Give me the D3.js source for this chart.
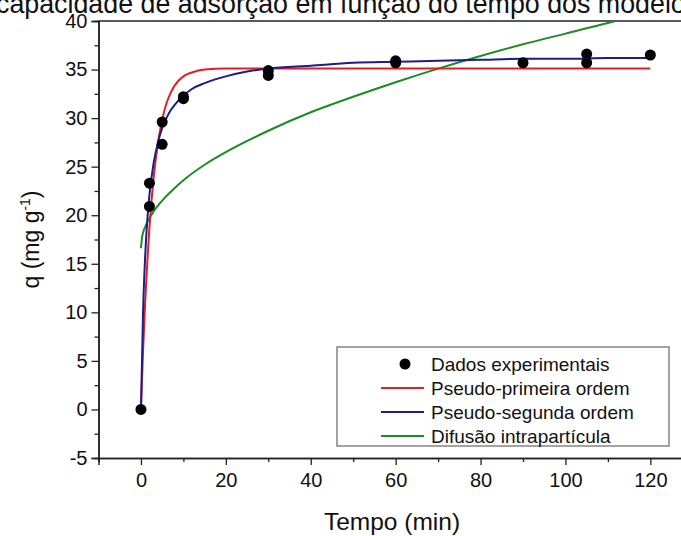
<!DOCTYPE html>
<html><head><meta charset="utf-8">
<script src="https://cdn.jsdelivr.net/npm/d3@7"></script>
<style>body{margin:0;background:#fff}svg{display:block}text{font-family:"Liberation Sans",Arial,sans-serif;fill:#111}</style>
</head><body>
<svg id="c" width="681" height="536"></svg>
<script>
const titleText = "capacidade de adsorção em função do tempo dos modelos";
const xLabel = "Tempo (min)";
const xTicks = [0, 20, 40, 60, 80, 100, 120];
const xMinor = [-10, 10, 30, 50, 70, 90, 110, 130];
const yTicks = [-5, 0, 5, 10, 15, 20, 25, 30, 35, 40];
const yMinor = [-2.5, 2.5, 7.5, 12.5, 17.5, 22.5, 27.5, 32.5, 37.5];

const expT = [0, 2, 2, 5, 5, 10, 10, 30, 30, 60, 60, 90, 105, 105, 120];
const expQ = [0, 20.9, 23.3, 29.6, 27.3, 32.0, 32.2, 34.4, 34.9, 35.7, 35.9, 35.7, 35.7, 36.6, 36.5];

const pfoT = [0, 0.5, 1, 1.5, 2, 3, 4, 5, 6, 7, 8, 10, 12, 15, 20, 30, 60, 90, 120];
const pfoQ = [0, 6.1, 11.1, 15.2, 18.7, 23.9, 27.4, 29.8, 31.5, 32.6, 33.4, 34.3, 34.7, 35.0, 35.1, 35.1, 35.1, 35.1, 35.1];

const psoT = [0, 0.5, 1, 1.5, 2, 3, 4, 5, 6, 7, 8, 10, 12, 15, 20, 25, 30, 40, 50, 60, 70, 80, 90, 100, 110, 120];
const psoQ = [0, 10.1, 15.8, 19.5, 22.1, 25.4, 27.5, 29.0, 30.0, 30.8, 31.4, 32.3, 33.0, 33.6, 34.3, 34.8, 35.1, 35.4, 35.7, 35.8, 35.9, 36.0, 36.1, 36.1, 36.2, 36.2];

const difT = [0, 0.25, 0.5, 1, 2, 3, 5, 7, 10, 15, 20, 30, 40, 50, 60, 70, 80, 90, 100, 110, 120];
const difQ = [16.6, 17.7, 18.2, 18.8, 19.7, 20.4, 21.5, 22.4, 23.6, 25.2, 26.5, 28.7, 30.6, 32.2, 33.7, 35.1, 36.4, 37.6, 38.7, 39.8, 40.8];

const legendLabels = ["Dados experimentais", "Pseudo-primeira ordem", "Pseudo-segunda ordem", "Difusão intrapartícula"];
const colors = {pfo: "#e31e24", pso: "#1c1c8a", dif: "#1e8a28"};

const svg = d3.select("#c");
const x = d3.scaleLinear().domain([-10, 130]).range([98.5, 692.8]);
const y = d3.scaleLinear().domain([-5, 40]).range([458, 21]);

svg.append("text").attr("x", -4).attr("y", 13).attr("font-size", 26.8).text(titleText);

svg.append("defs").append("clipPath").attr("id", "clip")
  .append("rect").attr("x", x(-10)).attr("y", y(40)).attr("width", x(130) - x(-10)).attr("height", y(-5) - y(40));

const fmt = d => String(d);
const g = svg.append("g");
g.append("g").attr("transform", `translate(0,${y(-5)})`)
  .call(d3.axisBottom(x).tickValues(xTicks).tickSize(7).tickPadding(8).tickFormat(fmt));
g.append("g").attr("transform", `translate(0,${y(-5)})`)
  .call(d3.axisBottom(x).tickValues(xMinor).tickSize(4).tickFormat(""));
g.append("g").attr("transform", `translate(${x(-10)},0)`)
  .call(d3.axisLeft(y).tickValues(yTicks).tickSize(7).tickPadding(4).tickFormat(fmt));
g.append("g").attr("transform", `translate(${x(-10)},0)`)
  .call(d3.axisLeft(y).tickValues(yMinor).tickSize(4).tickFormat(""));
g.selectAll(".domain").attr("stroke", "#222").attr("stroke-width", 1.5);
g.selectAll(".tick line").attr("stroke", "#222").attr("stroke-width", 1.3);
g.selectAll(".tick text").attr("font-size", 20).attr("fill", "#111").attr("font-family", '"Liberation Sans",Arial,sans-serif');
g.append("line").attr("x1", x(-10)).attr("x2", x(130)).attr("y1", y(40)).attr("y2", y(40)).attr("stroke", "#222").attr("stroke-width", 1.5);

svg.append("text").attr("x", 392).attr("y", 530).attr("text-anchor", "middle").attr("font-size", 24.5).text(xLabel);
const yl = svg.append("text").attr("transform", `translate(39,${y(17.5)}) rotate(-90)`).attr("text-anchor", "middle").attr("font-size", 23);
yl.append("tspan").text("q (mg g");
yl.append("tspan").attr("dy", -9).attr("font-size", 14).text("-1");
yl.append("tspan").attr("dy", 9).text(")");

const plot = svg.append("g").attr("clip-path", "url(#clip)");
const mk = (T, Q) => T.map((t, i) => [t, Q[i]]);
const line = d3.line().x(d => x(d[0])).y(d => y(d[1])).curve(d3.curveMonotoneX);
plot.append("path").datum(mk(difT, difQ)).attr("d", line).attr("fill", "none").attr("stroke", colors.dif).attr("stroke-width", 2);
plot.append("path").datum(mk(pfoT, pfoQ)).attr("d", line).attr("fill", "none").attr("stroke", colors.pfo).attr("stroke-width", 2);
plot.append("path").datum(mk(psoT, psoQ)).attr("d", line).attr("fill", "none").attr("stroke", colors.pso).attr("stroke-width", 2);
plot.selectAll("circle").data(mk(expT, expQ)).enter().append("circle")
  .attr("cx", d => x(d[0])).attr("cy", d => y(d[1])).attr("r", 5.5).attr("fill", "#000");

// legend
const lg = svg.append("g");
lg.append("rect").attr("x", 337).attr("y", 347).attr("width", 332).attr("height", 99).attr("fill", "#fff").attr("stroke", "#666").attr("stroke-width", 1.2);
const rowY = [365, 389, 413, 437];
const lc = [null, colors.pfo, colors.pso, colors.dif];
legendLabels.forEach((lab, i) => {
  if (i === 0) lg.append("circle").attr("cx", 405).attr("cy", rowY[i] - 1).attr("r", 5.5).attr("fill", "#000");
  else lg.append("line").attr("x1", 381).attr("x2", 424).attr("y1", rowY[i] - 1).attr("y2", rowY[i] - 1).attr("stroke", lc[i]).attr("stroke-width", 2);
  lg.append("text").attr("x", 431).attr("y", rowY[i] + 6).attr("font-size", 19).text(lab);
});
</script>
</body></html>
